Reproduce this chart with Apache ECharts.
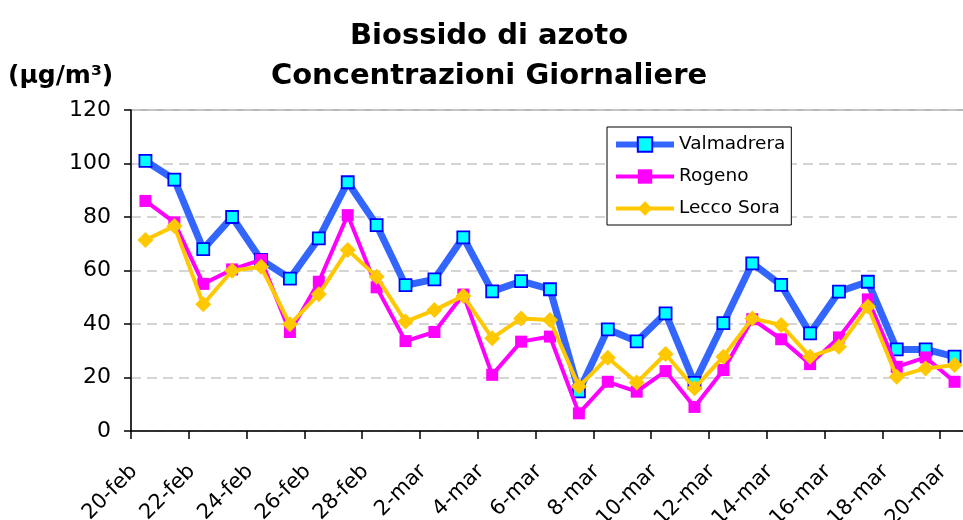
<!DOCTYPE html>
<html><head><meta charset="utf-8">
<script src="https://cdn.jsdelivr.net/npm/echarts@6/dist/echarts.min.js"></script>
<style>html,body{margin:0;padding:0;background:#fff}#c{width:963px;height:520px}</style>
</head><body><div id="c"></div>
<script>
const categories = ['20-feb','21-feb','22-feb','23-feb','24-feb','25-feb','26-feb','27-feb','28-feb',
  '1-mar','2-mar','3-mar','4-mar','5-mar','6-mar','7-mar','8-mar','9-mar','10-mar','11-mar','12-mar',
  '13-mar','14-mar','15-mar','16-mar','17-mar','18-mar','19-mar','20-mar'];
const valmadrera = [101,94,68,80,64,57,72,93,77,54.5,56.7,72.4,52.2,56,53,14.8,38,33.5,44,18,40.3,62.7,54.6,36.5,52.1,55.8,30.5,30.5,27.8];
const rogeno = [86,78,55,60.4,64,37,55.8,80.7,53.7,33.6,37,51,21,33.4,35.3,6.6,18.4,14.7,22.4,9,22.8,41.8,34.3,25,35,49.2,24,27.5,18.4];
const leccoSora = [71.4,76.6,47.4,59.9,61.4,39.9,51.1,67.7,57.7,40.9,45.2,50.5,34.7,42.1,41.5,16.6,27.4,18.1,28.8,16,27.8,42.1,39.6,27.8,31.5,46.5,20.3,23.4,24.7];
const yTicks = {min: 0, max: 120, interval: 20};

const FONT = 'DejaVu Sans';
const chart = echarts.init(document.getElementById('c'), null, {renderer: 'canvas'});
chart.setOption({
  animation: false,
  backgroundColor: '#fff',
  textStyle: {fontFamily: FONT},
  title: [{
    text: 'Biossido di azoto\nConcentrazioni Giornaliere',
    left: 484, top: 11, textAlign: 'center',
    textStyle: {fontFamily: FONT, fontSize: 29, fontWeight: 'bold', color: '#000', lineHeight: 40}
  }, {
    text: '(μg/m³)',
    left: 3, top: 59,
    textStyle: {fontFamily: FONT, fontSize: 25, fontWeight: 'bold', color: '#000'}
  }],
  legend: {
    orient: 'vertical', left: 607, top: 127,
    padding: [8, 6, 7, 6], itemGap: 13, itemWidth: 58, itemHeight: 18,
    backgroundColor: '#fff', borderColor: '#000', borderWidth: 1,
    textStyle: {fontFamily: FONT, fontSize: 18.5, color: '#000'},
    data: [
      {name: 'Valmadrera', lineStyle: {width: 6}},
      {name: 'Rogeno', lineStyle: {width: 4}},
      {name: 'Lecco Sora', lineStyle: {width: 4}}
    ]
  },
  grid: {left: 131, top: 110, width: 838, height: 321, show: true, borderColor: '#a0a0a0', borderWidth: 1.5,
         containLabel: false, outerBoundsMode: 'none'},
  xAxis: {
    type: 'category', data: categories, boundaryGap: true,
    axisLine: {lineStyle: {color: '#000', width: 1.5}},
    axisTick: {show: true, interval: 1, length: 8, lineStyle: {color: '#000', width: 1.5}},
    axisLabel: {interval: 1, rotate: 45, fontSize: 21, color: '#000', margin: 26, fontFamily: FONT, padding: [0, 16, 0, 0]},
    splitLine: {show: false}
  },
  yAxis: {
    type: 'value', min: yTicks.min, max: yTicks.max, interval: yTicks.interval,
    axisLine: {show: true, lineStyle: {color: '#000', width: 1.5}},
    axisTick: {show: true, length: 7, lineStyle: {color: '#000', width: 1.5}},
    axisLabel: {fontSize: 22, color: '#000', margin: 20, fontFamily: FONT},
    splitLine: {show: true, lineStyle: {color: '#c8c8c8', type: [10, 6], width: 1.5}}
  },
  series: [{
    name: 'Valmadrera', type: 'line', data: valmadrera,
    symbol: 'rect', symbolSize: 12, z: 2,
    lineStyle: {color: '#3366FF', width: 7},
    itemStyle: {color: '#00FFFF', borderColor: '#0000FF', borderWidth: 1.8}
  }, {
    name: 'Rogeno', type: 'line', data: rogeno,
    symbol: 'rect', symbolSize: 12, z: 3,
    lineStyle: {color: '#FF00FF', width: 4},
    itemStyle: {color: '#FF00FF', borderWidth: 0}
  }, {
    name: 'Lecco Sora', type: 'line', data: leccoSora,
    symbol: 'diamond', symbolSize: 16, z: 4,
    lineStyle: {color: '#FFC800', width: 4},
    itemStyle: {color: '#FFC800', borderWidth: 0}
  }]
});
</script>
</body></html>
